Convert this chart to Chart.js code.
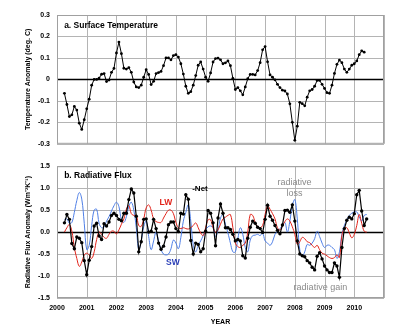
<!DOCTYPE html>
<html><head><meta charset="utf-8">
<script src="https://cdn.jsdelivr.net/npm/chart.js@4"></script>
<style>
html,body{margin:0;padding:0;background:#fff;}
#wrap{position:relative;width:400px;height:331px;overflow:hidden;}
#top{position:absolute;left:0;top:0;width:400px;height:155px;}
#bot{position:absolute;left:0;top:155px;width:400px;height:176px;}
</style></head><body>
<div id="wrap"><div id="top"><canvas id="c1"></canvas></div><div id="bot"><canvas id="c2"></canvas></div></div>
<script>
// ---- data (monthly, first month = 2000.25) ----
const startYear = 2000.25;
const yearTicks = [2000,2001,2002,2003,2004,2005,2006,2007,2008,2009,2010,2011];

const tempAnomaly = [
-0.065,-0.117,-0.173,-0.165,-0.126,-0.143,-0.204,-0.233,-0.188,-0.137,
-0.092,-0.027,0.000,0.000,0.006,0.024,0.027,-0.010,-0.003,0.033,
0.051,0.123,0.174,0.120,0.052,0.048,0.055,0.033,-0.012,-0.035,
-0.038,-0.027,0.010,0.045,0.023,-0.024,-0.009,0.027,0.032,0.037,
0.064,0.100,0.100,0.091,0.111,0.115,0.104,0.073,0.025,-0.032,
-0.065,-0.057,-0.027,0.018,0.066,
0.081,0.048,0.010,-0.009,0.030,0.081,0.097,0.099,0.091,0.073,
0.077,0.086,0.064,0.005,-0.047,-0.038,-0.053,-0.072,-0.035,0.003,
0.023,0.023,0.021,0.041,0.078,0.138,0.153,0.082,0.021,0.010,
-0.002,-0.023,-0.038,-0.050,-0.054,-0.068,-0.114,-0.200,-0.284,-0.218,
-0.107,-0.113,-0.123,-0.083,-0.053,-0.047,-0.032,-0.005,-0.005,-0.023,
-0.042,-0.062,-0.065,-0.027,0.028,0.070,0.090,0.078,0.048,0.033,
0.048,0.066,0.073,0.086,0.115,0.133,0.127];

const netFlux = [
0.21,0.40,0.29,-0.26,-0.38,-0.11,-0.14,-0.24,-0.65,-0.97,
-0.64,-0.33,0.14,0.20,-0.09,-0.17,0.19,0.14,0.23,0.38,
0.43,0.38,0.29,0.26,0.43,0.43,0.74,0.98,0.89,0.36,
-0.45,-0.22,0.29,0.30,0.00,0.02,0.29,0.08,-0.25,-0.39,
-0.32,-0.11,0.17,0.23,0.23,0.08,0.01,0.43,0.41,0.85,
0.75,-0.19,-0.50,-0.25,-0.28,-0.45,-0.38,0.02,0.49,0.43,
0.21,-0.31,0.32,0.64,0.43,0.10,0.10,0.06,-0.05,-0.20,
-0.17,-0.20,-0.54,-0.59,-0.14,0.11,0.25,0.20,0.11,0.08,
-0.01,0.29,0.61,0.36,0.27,0.15,0.04,-0.04,0.16,0.49,
0.50,0.45,0.62,0.25,-0.20,-0.50,-0.54,-0.56,-0.65,-0.70,
-0.80,-0.86,-0.55,-0.47,-0.61,-0.77,-0.86,-0.92,-0.92,-0.70,
-0.77,-1.03,-0.35,0.08,0.27,0.34,0.30,0.42,0.85,0.95,
0.48,0.15,0.30];

const lwFlux = [
0.00,0.10,0.17,0.02,-0.35,-0.60,-0.78,-0.68,-0.52,-0.48,
-0.52,-0.60,-0.45,-0.17,0.00,-0.05,-0.12,-0.14,-0.05,0.02,
0.02,-0.04,0.05,0.18,0.30,0.52,0.60,0.42,0.38,0.38,
0.15,0.13,0.30,0.55,0.62,0.50,0.30,0.24,0.22,0.22,
0.32,0.42,0.50,0.50,0.42,0.22,0.10,0.08,0.10,0.08,
0.07,0.10,0.15,0.21,0.10,-0.02,-0.08,0.10,0.28,0.28,
0.10,0.00,0.05,0.18,0.30,0.34,0.38,0.40,0.10,-0.25,
-0.33,-0.35,-0.30,-0.25,0.00,0.40,0.38,0.22,0.12,0.10,
0.15,0.40,0.60,0.52,0.42,0.30,0.10,0.05,0.14,0.24,
0.30,0.25,0.12,-0.05,-0.28,-0.22,-0.12,-0.15,-0.22,-0.24,
-0.30,-0.35,-0.30,-0.40,-0.48,-0.50,-0.54,-0.58,-0.60,-0.58,
-0.52,-0.58,-0.08,0.08,0.10,-0.02,-0.13,-0.05,0.15,0.40,
0.20,0.02,0.00];

const swFlux = [
0.29,0.30,0.20,0.22,0.45,0.72,0.90,0.75,0.20,-0.40,
-0.30,0.15,0.50,0.52,0.20,0.10,0.12,0.25,0.35,0.48,
0.60,0.68,0.58,0.28,0.22,0.35,0.58,0.68,0.50,0.10,
-0.40,-0.20,0.12,0.25,-0.10,-0.40,-0.20,0.00,-0.20,-0.40,
-0.50,-0.52,-0.50,-0.38,-0.18,-0.25,-0.38,-0.12,0.25,0.45,
0.62,0.25,-0.30,-0.45,-0.30,-0.20,-0.08,0.05,0.12,0.14,
0.10,-0.10,0.05,0.32,0.40,0.17,-0.02,-0.25,-0.45,-0.45,
-0.15,0.10,-0.05,-0.35,-0.45,-0.18,-0.08,-0.07,-0.05,-0.08,
-0.02,-0.20,-0.25,-0.30,-0.22,-0.05,0.02,0.08,0.15,0.22,
0.00,0.25,0.60,0.74,0.30,-0.40,-0.55,-0.45,-0.28,-0.30,
-0.25,-0.15,0.02,-0.10,-0.25,-0.35,-0.30,-0.30,-0.35,-0.40,
-0.60,-0.45,-0.05,0.15,0.28,0.38,0.43,0.46,0.46,0.35,
0.25,0.38,0.40];

// ---- helpers ----
const toXY = arr => arr.map((v, i) => ({x: startYear + i / 12, y: v}));
const FONT = "'Liberation Sans', Arial, sans-serif";
const GRID = '#b4b4b4';

const framePlugin = {
  id: 'frame',
  beforeDatasetsDraw(chart) {
    const {ctx, chartArea: a, scales: {x, y}} = chart;
    ctx.save();
    ctx.lineWidth = 1;
    // grid lines at the scale ticks
    ctx.strokeStyle = GRID;
    ctx.beginPath();
    x.ticks.forEach(t => {
      const px = Math.round(x.getPixelForValue(t.value)) + 0.5;
      ctx.moveTo(px, a.top); ctx.lineTo(px, a.bottom);
    });
    y.ticks.forEach(t => {
      if (Math.abs(t.value) < 1e-9) return;
      const py = Math.round(y.getPixelForValue(t.value)) + 0.5;
      ctx.moveTo(a.left, py); ctx.lineTo(a.right, py);
    });
    ctx.stroke();
    // zero line
    ctx.strokeStyle = '#000';
    ctx.lineWidth = 1.3;
    ctx.beginPath();
    const z = Math.round(y.getPixelForValue(0)) + 0.5;
    ctx.moveTo(a.left, z); ctx.lineTo(a.right, z);
    ctx.stroke();
    // frame
    ctx.lineWidth = 1;
    ctx.strokeStyle = '#a0a0a0';
    ctx.strokeRect(a.left + 0.5, a.top + 0.5, a.right - a.left - 1, a.bottom - a.top - 1);
    ctx.restore();
  }
};
const notesPlugin = {
  id: 'notes',
  afterDatasetsDraw(chart, args, opts) {
    const {ctx, scales: {x, y}} = chart;
    (opts.items || []).forEach(n => {
      ctx.save();
      ctx.font = n.font;
      ctx.fillStyle = n.color;
      ctx.textAlign = n.align || 'center';
      ctx.textBaseline = 'middle';
      ctx.fillText(n.text, x.getPixelForValue(n.x), y.getPixelForValue(n.y));
      ctx.restore();
    });
  }
};

function yAxis(min, max, step, title, fmt) {
  return {
    min, max,
    afterFit: s => { s.width = 57; },
    ticks: {stepSize: step, padding: 7, color: '#000', font: {family: FONT, size: 7, weight: 'bold'}, callback: fmt},
    grid: {display: false, drawTicks: false},
    border: {display: false},
    title: {display: true, text: title, color: '#000', font: {family: FONT, size: 7, weight: 'bold'}, padding: {top: 24, bottom: 0}}
  };
}

// ---- top chart ----
new Chart(document.getElementById('c1'), {
  type: 'line',
  data: {
    datasets: [{
      data: toXY(tempAnomaly),
      borderColor: '#000', backgroundColor: '#000', borderWidth: 1,
      pointRadius: 1.4, pointBorderWidth: 0, tension: 0
    }]
  },
  options: {
    responsive: true, maintainAspectRatio: false, devicePixelRatio: 1, animation: false,
    layout: {padding: {top: 15, right: 16, bottom: 6, left: 0}},
    plugins: {
      legend: {display: false}, tooltip: {enabled: false},
      notes: {items: [
        {text: 'a. Surface Temperature', x: 2000.24, y: 0.25, align: 'left', color: '#000', font: 'bold 8.5px ' + FONT}
      ]}
    },
    scales: {
      x: {
        type: 'linear', min: 2000, max: 2011,
        afterFit: s => { s.height = 0; },
        afterBuildTicks: s => { s.ticks = yearTicks.map(v => ({value: v})); },
        ticks: {display: false},
        grid: {display: false, drawTicks: false},
        border: {display: false}
      },
      y: yAxis(-0.3, 0.3, 0.1, 'Temperature Anomaly (deg. C)', v => {
        const r = Math.round(v * 10) / 10; return r === 0 ? '0' : r.toFixed(1);
      })
    }
  },
  plugins: [framePlugin, notesPlugin]
});

// ---- bottom chart ----
new Chart(document.getElementById('c2'), {
  type: 'line',
  data: {
    datasets: [
      {label: '-Net', data: toXY(netFlux), borderColor: '#000', backgroundColor: '#000', borderWidth: 1.2,
       pointRadius: 1.7, pointBorderWidth: 0, tension: 0},
      {label: 'LW', data: toXY(lwFlux), borderColor: '#e2231a', borderWidth: 1, pointRadius: 0, tension: 0.4},
      {label: 'SW', data: toXY(swFlux), borderColor: '#4f7fe6', borderWidth: 1, pointRadius: 0, tension: 0.4}
    ]
  },
  options: {
    responsive: true, maintainAspectRatio: false, devicePixelRatio: 1, animation: false,
    layout: {padding: {top: 9, right: 16, bottom: 0, left: 0}},
    plugins: {
      legend: {display: false}, tooltip: {enabled: false},
      notes: {items: [
        {text: 'b. Radiative Flux', x: 2000.24, y: 1.28, align: 'left', color: '#000', font: 'bold 8.5px ' + FONT},
        {text: 'LW', x: 2003.66, y: 0.66, color: '#e2231a', font: 'bold 8.5px ' + FONT},
        {text: 'SW', x: 2003.9, y: -0.69, color: '#2a3fb8', font: 'bold 8.5px ' + FONT},
        {text: '-Net', x: 2004.81, y: 0.975, color: '#000', font: 'bold 8px ' + FONT},
        {text: 'radiative', x: 2007.99, y: 1.13, color: '#8a8a8a', font: '9px ' + FONT},
        {text: 'loss', x: 2007.99, y: 0.885, color: '#8a8a8a', font: '9px ' + FONT},
        {text: 'radiative gain', x: 2008.86, y: -1.25, color: '#8a8a8a', font: '9px ' + FONT}
      ]}
    },
    scales: {
      x: {
        type: 'linear', min: 2000, max: 2011,
        afterFit: s => { s.height = 33; },
        afterBuildTicks: s => { s.ticks = yearTicks.map(v => ({value: v})); },
        ticks: {padding: 6, maxRotation: 0, autoSkip: false, color: '#000',
                font: {family: FONT, size: 7, weight: 'bold'},
                callback: v => (v === 2011 ? '' : String(v))},
        grid: {display: false, drawTicks: false},
        border: {display: false},
        title: {display: true, text: 'YEAR', color: '#000', font: {family: FONT, size: 7, weight: 'bold'}, padding: {top: 0, bottom: 5}}
      },
      y: yAxis(-1.5, 1.5, 0.5, 'Radiative Flux Anomaly (Wm\u207B\u00B2K\u207B\u00B9)', v => {
        const r = Math.round(v * 10) / 10; return r.toFixed(1);
      })
    }
  },
  plugins: [framePlugin, notesPlugin]
});
</script>
</body></html>
